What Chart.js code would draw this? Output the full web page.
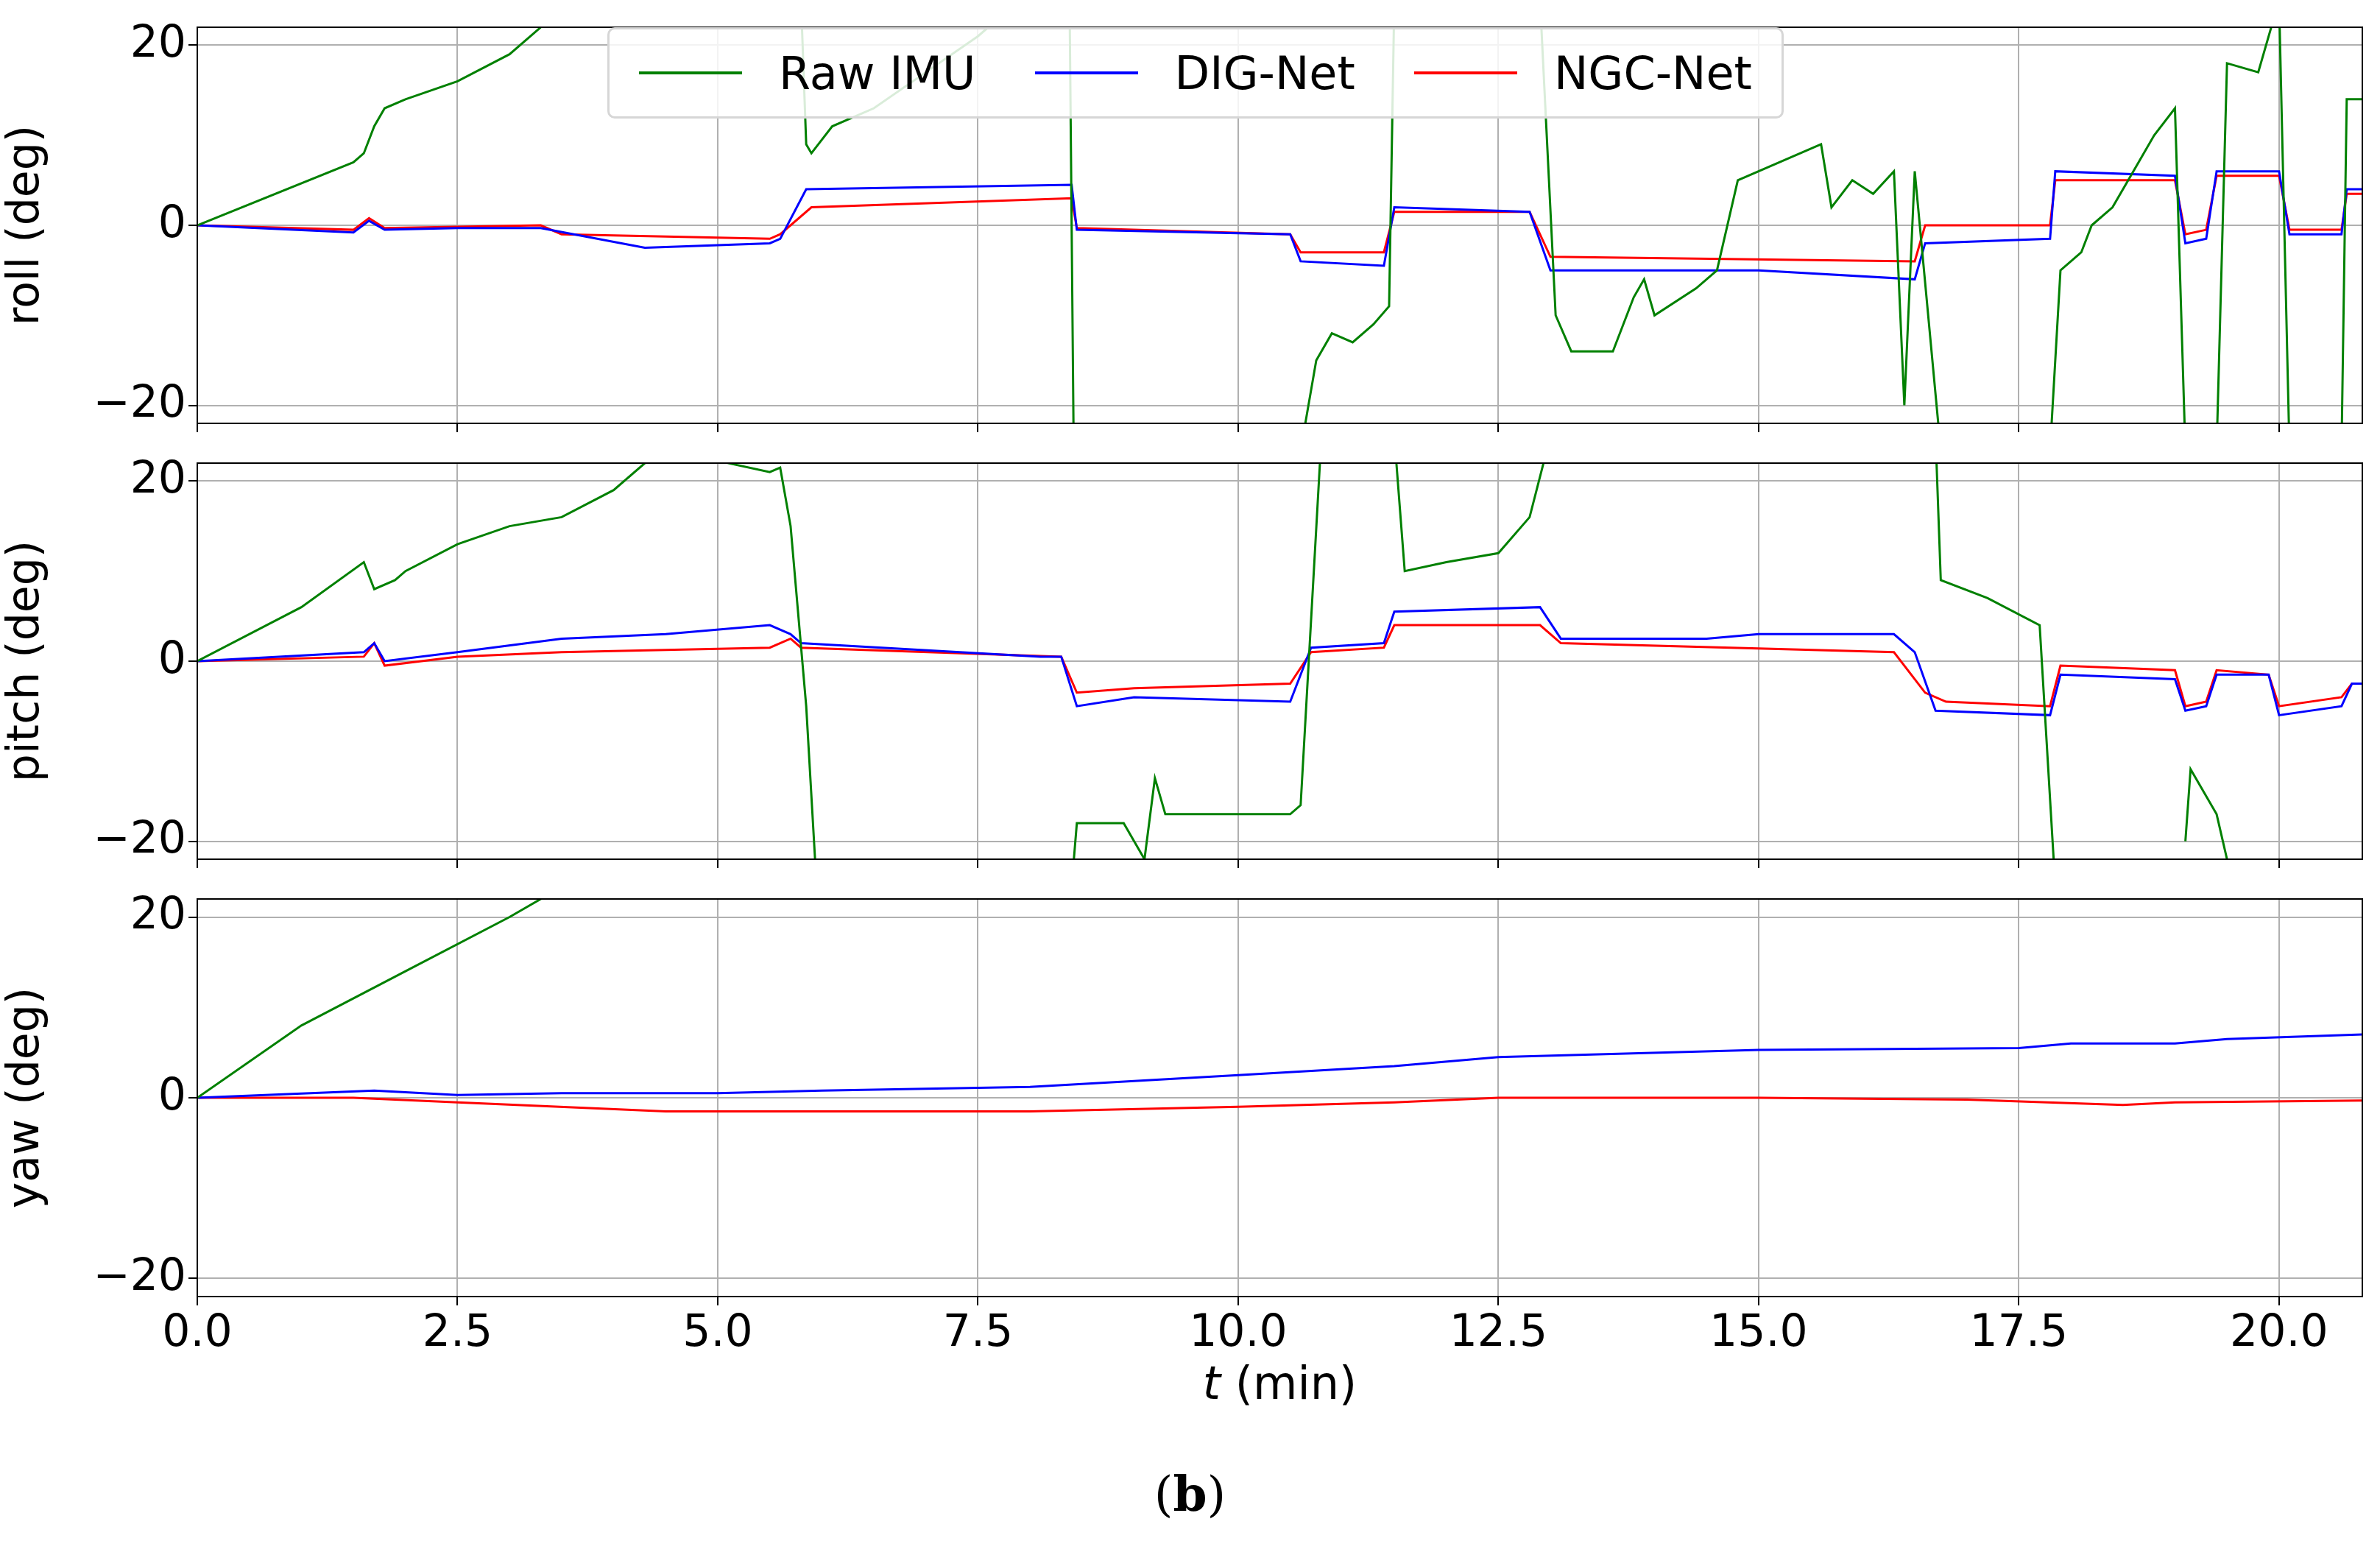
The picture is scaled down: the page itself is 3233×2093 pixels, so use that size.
<!DOCTYPE html>
<html>
<head>
<meta charset="utf-8">
<script src="https://cdn.jsdelivr.net/npm/chart.js@4.4.0/dist/chart.umd.min.js"></script>
<style>
  body { margin: 0; background: #fff; width: 3233px; height: 2093px; overflow: hidden; font-family: "DejaVu Sans", sans-serif; }
  canvas { position: absolute; left: 0; }
  #legend { position: absolute; left: 825px; top: 37px; width: 1598px; height: 124px; box-sizing: border-box;
    background: rgba(255,255,255,0.85); border: 3px solid #d6d6d6; border-radius: 10px;
    display: flex; align-items: center; justify-content: space-around; font-size: 62px; color: #000; z-index: 5; }
  .item { display: flex; align-items: center; }
  .swatch { width: 140px; height: 4px; margin-right: 50px; }
  #xtitle { position: absolute; top: 1842px; left: 0; width: 3477px; text-align: center; font-size: 62px; }
  #sub { position: absolute; top: 1990px; left: 0; width: 3233px; text-align: center; font-size: 66px; font-family: "DejaVu Serif", serif; }
</style>
</head>
<body>
<canvas id="roll" width="3233" height="616" style="top:-2px"></canvas>
<canvas id="pitch" width="3233" height="616" style="top:590px"></canvas>
<canvas id="yaw" width="3233" height="679" style="top:1182px"></canvas>
<div id="legend">
  <div class="item"><div class="swatch" style="background:#008000"></div>Raw IMU</div>
  <div class="item"><div class="swatch" style="background:#0000ff"></div>DIG-Net</div>
  <div class="item"><div class="swatch" style="background:#ff0000"></div>NGC-Net</div>
</div>
<div id="xtitle"><i>t</i> (min)</div>
<div id="sub">(<b>b</b>)</div>
<script>
// [t (min), deg]
const rollRaw = [[0,0],[1.5,7],[1.6,8],[1.7,11],[1.8,13],[2.0,14],[2.5,16],[3.0,19],[3.3,22],[3.5,25],[null,null],
  [5.8,25],[5.85,9],[5.9,8],[6.1,11],[6.5,13],[7.0,17],[7.5,21],[7.8,24],[8.0,25],[null,null],
  [8.38,25],[8.42,-25],[null,null],[10.6,-25],[10.75,-15],[10.9,-12],[11.1,-13],[11.3,-11],[11.45,-9],[11.5,25],[null,null],
  [12.9,25],[13.05,-10],[13.2,-14],[13.6,-14],[13.8,-8],[13.9,-6],[14.0,-10],[14.4,-7],[14.6,-5],[14.8,5],[15.6,9],[15.7,2],[15.9,5],[16.1,3.5],[16.3,6],[16.4,-20],[16.5,6],[16.75,-25],[null,null],
  [17.8,-25],[17.9,-5],[18.1,-3],[18.2,0],[18.4,2],[18.6,6],[18.8,10],[19.0,13],[19.1,-25],[null,null],
  [19.4,-25],[19.5,18],[19.8,17],[20.0,25],[20.1,-25],[null,null],[20.6,-25],[20.65,14],[20.8,14]];
const rollDig = [[0,0],[1.5,-0.8],[1.65,0.5],[1.8,-0.5],[2.5,-0.3],[3.3,-0.3],[4.3,-2.5],[5.5,-2],[5.6,-1.5],[5.85,4],[8.4,4.5],[8.45,-0.5],
  [10.5,-1],[10.6,-4],[11.4,-4.5],[11.5,2],[12.8,1.5],[13.0,-5],[15.0,-5],[16.5,-6],[16.6,-2],[17.8,-1.5],[17.85,6],[19.0,5.5],[19.1,-2],
  [19.3,-1.5],[19.4,6],[20.0,6],[20.1,-1],[20.6,-1],[20.65,4],[20.8,4]];
const rollNgc = [[0,0],[1.5,-0.5],[1.65,0.8],[1.8,-0.3],[3.3,0],[3.5,-1],[5.5,-1.5],[5.6,-1],[5.9,2],[8.4,3],[8.45,-0.3],[10.5,-1],[10.6,-3],
  [11.4,-3],[11.5,1.5],[12.8,1.5],[13.0,-3.5],[16.5,-4],[16.6,0],[17.8,0],[17.85,5],[19.0,5],[19.1,-1],[19.3,-0.5],[19.4,5.5],[20.0,5.5],
  [20.1,-0.5],[20.6,-0.5],[20.65,3.5],[20.8,3.5]];

const pitchRaw = [[0,0],[1.0,6],[1.6,11],[1.7,8],[1.9,9],[2.0,10],[2.5,13],[3.0,15],[3.5,16],[4.0,19],[4.3,22],[4.5,24],[null,null],
  [5.0,24],[5.1,22],[5.5,21],[5.6,21.5],[5.7,15],[5.85,-5],[5.95,-25],[null,null],
  [8.4,-25],[8.45,-18],[8.9,-18],[9.1,-22],[9.2,-13],[9.3,-17],[10.5,-17],[10.6,-16],[10.8,25],[null,null],
  [11.5,25],[11.6,10],[12.0,11],[12.5,12],[12.8,16],[13.0,25],[null,null],
  [16.7,25],[16.75,9],[17.2,7],[17.7,4],[17.85,-25],[null,null],[19.1,-20],[19.15,-12],[19.4,-17],[19.5,-22]];
const pitchDig = [[0,0],[1.6,1],[1.7,2],[1.8,0],[2.5,1],[3.5,2.5],[4.5,3],[5.5,4],[5.7,3],[5.8,2],[8.1,0.5],[8.3,0.5],[8.45,-5],[9.0,-4],
  [10.5,-4.5],[10.7,1.5],[11.4,2],[11.5,5.5],[12.9,6],[13.1,2.5],[14.5,2.5],[15,3],[16.3,3],[16.5,1],[16.7,-5.5],[17.8,-6],[17.9,-1.5],
  [19.0,-2],[19.1,-5.5],[19.3,-5],[19.4,-1.5],[19.9,-1.5],[20.0,-6],[20.6,-5],[20.7,-2.5],[20.8,-2.5]];
const pitchNgc = [[0,0],[1.6,0.5],[1.7,2],[1.8,-0.5],[2.5,0.5],[3.5,1],[5.5,1.5],[5.7,2.5],[5.8,1.5],[8.3,0.5],[8.45,-3.5],[9.0,-3],
  [10.5,-2.5],[10.7,1],[11.4,1.5],[11.5,4],[12.9,4],[13.1,2],[16.3,1],[16.6,-3.5],[16.8,-4.5],[17.8,-5],[17.9,-0.5],[19.0,-1],[19.1,-5],
  [19.3,-4.5],[19.4,-1],[19.9,-1.5],[20.0,-5],[20.6,-4],[20.7,-2.5],[20.8,-2.5]];

const yawRaw = [[0,0],[1.0,8],[2.0,14],[3.0,20],[3.3,22],[3.5,24]];
const yawDig = [[0,0],[1.7,0.8],[2.5,0.3],[3.5,0.5],[5,0.5],[6,0.8],[8,1.2],[10,2.5],[11.5,3.5],[12.5,4.5],[15,5.3],[17.5,5.5],[18,6],
  [19,6],[19.5,6.5],[20.8,7]];
const yawNgc = [[0,0],[1.5,0],[2.5,-0.5],[4.5,-1.5],[6,-1.5],[8,-1.5],[10,-1],[11.5,-0.5],[12.5,0],[15,0],[17,-0.2],[18.5,-0.8],[19,-0.5],[20.8,-0.3]];

const yTicks = [-20, 0, 20];
const xTicks = [0, 2.5, 5, 7.5, 10, 12.5, 15, 17.5, 20];

const pts = a => a.map(p => ({ x: p[0], y: p[1] }));
const frame = {
  id: 'frame',
  afterDraw(c) {
    const a = c.chartArea, ctx = c.ctx;
    ctx.save(); ctx.strokeStyle = '#000'; ctx.lineWidth = 2;
    ctx.strokeRect(a.left, a.top, a.right - a.left, a.bottom - a.top); ctx.restore();
  }
};

function panel(id, title, raw, dig, ngc, showX) {
  const ds = (d, col) => ({ data: pts(d), borderColor: col, borderWidth: 3, pointRadius: 0, fill: false, tension: 0, spanGaps: false });
  new Chart(document.getElementById(id), {
    type: 'line',
    data: { datasets: [ds(raw, '#008000'), ds(dig, '#0000ff'), ds(ngc, '#ff0000')] },
    plugins: [frame],
    options: {
      responsive: false, animation: false, devicePixelRatio: 1,
      layout: { padding: { top: 10, right: 24, bottom: 0, left: 0 } },
      plugins: { legend: { display: false }, tooltip: { enabled: false } },
      scales: {
        x: {
          type: 'linear', min: 0, max: 20.8,
          afterBuildTicks: s => { s.ticks = xTicks.map(v => ({ value: v })); },
          afterFit: s => { s.height = showX ? 100 : 10; },
          grid: { color: '#b0b0b0', lineWidth: 2, tickLength: 12, tickColor: '#000' },
          ticks: { display: showX, color: '#000', font: { size: 60, family: 'DejaVu Sans' }, maxRotation: 0, callback: v => v.toFixed(1) }
        },
        y: {
          min: -22, max: 22,
          afterBuildTicks: s => { s.ticks = yTicks.map(v => ({ value: v })); },
          afterFit: s => { s.width = 268; },
          grid: { color: '#b0b0b0', lineWidth: 2, tickLength: 12, tickColor: '#000' },
          ticks: { color: '#000', font: { size: 60, family: 'DejaVu Sans' }, callback: v => v < 0 ? '\u2212' + Math.abs(v) : String(v) },
          title: { display: true, text: title, color: '#000', font: { size: 60, family: 'DejaVu Sans' }, padding: 0 }
        }
      }
    }
  });
}

panel('roll', 'roll (deg)', rollRaw, rollDig, rollNgc, false);
panel('pitch', 'pitch (deg)', pitchRaw, pitchDig, pitchNgc, false);
panel('yaw', 'yaw (deg)', yawRaw, yawDig, yawNgc, true);
</script>
</body>
</html>
